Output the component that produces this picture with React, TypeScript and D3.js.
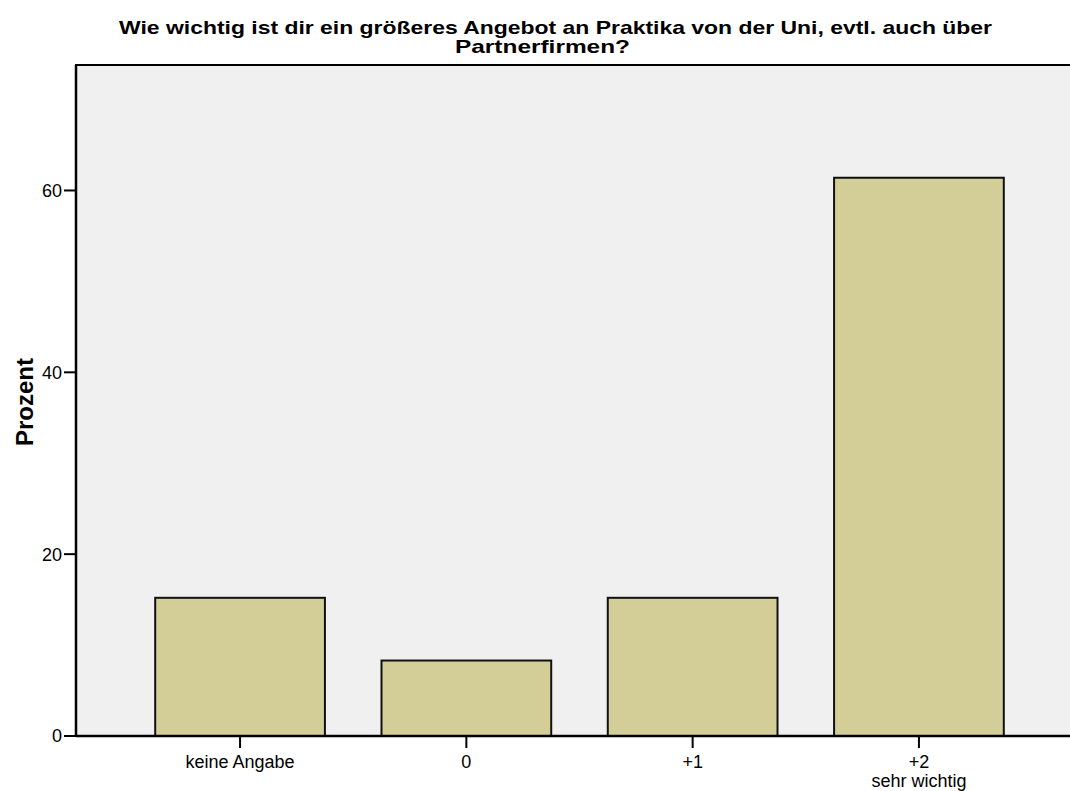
import { useEffect, useRef } from 'react';
import * as d3 from 'd3';

const categories = ['keine Angabe', '0', '+1', '+2'];
const subLabels = ['', '', '', 'sehr wichtig'];
const percentValues = [15.2, 8.3, 15.2, 61.4];
const yTicks = [0, 20, 40, 60];
const titleLines = [
  'Wie wichtig ist dir ein größeres Angebot an Praktika von der Uni, evtl. auch über',
  'Partnerfirmen?',
];

export default function App() {
  const ref = useRef<SVGSVGElement | null>(null);

  useEffect(() => {
    document.body.style.margin = '0';
    const svg = d3.select(ref.current!);
    svg.selectAll('*').remove();

    const width = 1070;
    const height = 791;
    const margin = { top: 65, left: 76, bottom: 736, right: 1083 };
    const font = "'Liberation Sans', Arial, sans-serif";

    const x = d3
      .scaleBand()
      .domain(categories)
      .range([margin.left, margin.right])
      .paddingInner(0.25)
      .paddingOuter(0.35);

    const y = d3.scaleLinear().domain([0, 73.8]).range([margin.bottom, margin.top]);

    svg.append('rect').attr('width', width).attr('height', height).attr('fill', '#ffffff');

    // plot background
    svg
      .append('rect')
      .attr('x', margin.left)
      .attr('y', margin.top)
      .attr('width', margin.right - margin.left)
      .attr('height', margin.bottom - margin.top)
      .attr('fill', '#f0f0f0')
      .attr('stroke', '#000')
      .attr('stroke-width', 2);

    // bars
    svg
      .selectAll('.bar')
      .data(categories)
      .enter()
      .append('rect')
      .attr('x', (d) => x(d)!)
      .attr('width', x.bandwidth())
      .attr('y', (_, i) => y(percentValues[i]))
      .attr('height', (_, i) => y(0) - y(percentValues[i]))
      .attr('fill', '#d3ce98')
      .attr('stroke', '#111')
      .attr('stroke-width', 2);

    // axes lines
    svg
      .append('line')
      .attr('x1', margin.left)
      .attr('x2', margin.right)
      .attr('y1', margin.bottom)
      .attr('y2', margin.bottom)
      .attr('stroke', '#000')
      .attr('stroke-width', 2.5);
    svg
      .append('line')
      .attr('x1', margin.left)
      .attr('x2', margin.left)
      .attr('y1', margin.top)
      .attr('y2', margin.bottom)
      .attr('stroke', '#000')
      .attr('stroke-width', 2.5);

    // y ticks
    yTicks.forEach((t) => {
      svg
        .append('line')
        .attr('x1', margin.left - 12)
        .attr('x2', margin.left)
        .attr('y1', y(t))
        .attr('y2', y(t))
        .attr('stroke', '#000')
        .attr('stroke-width', 2);
      svg
        .append('text')
        .attr('x', margin.left - 14)
        .attr('y', y(t))
        .attr('dy', '0.36em')
        .attr('text-anchor', 'end')
        .attr('font-family', font)
        .attr('font-size', '18px')
        .attr('fill', '#000')
        .text(String(t));
    });

    // x ticks
    categories.forEach((c, i) => {
      const cx = x(c)! + x.bandwidth() / 2;
      svg
        .append('line')
        .attr('x1', cx)
        .attr('x2', cx)
        .attr('y1', margin.bottom)
        .attr('y2', margin.bottom + 12)
        .attr('stroke', '#000')
        .attr('stroke-width', 2);
      svg
        .append('text')
        .attr('x', cx)
        .attr('y', 768)
        .attr('text-anchor', 'middle')
        .attr('font-family', font)
        .attr('font-size', '18px')
        .attr('fill', '#000')
        .text(c);
      if (subLabels[i]) {
        svg
          .append('text')
          .attr('x', cx)
          .attr('y', 787)
          .attr('text-anchor', 'middle')
          .attr('font-family', font)
          .attr('font-size', '18px')
          .attr('fill', '#000')
          .text(subLabels[i]);
      }
    });

    // y axis title
    svg
      .append('text')
      .attr('transform', 'translate(33,402) rotate(-90)')
      .attr('text-anchor', 'middle')
      .attr('font-family', font)
      .attr('font-size', '24px')
      .attr('font-weight', 'bold')
      .attr('fill', '#000')
      .text('Prozent');

    // chart title
    svg
      .append('text')
      .attr('x', 119)
      .attr('y', 34)
      .attr('textLength', 873)
      .attr('lengthAdjust', 'spacingAndGlyphs')
      .attr('font-family', font)
      .attr('font-size', '19px')
      .attr('font-weight', 'bold')
      .attr('fill', '#000')
      .text(titleLines[0]);
    svg
      .append('text')
      .attr('x', 455)
      .attr('y', 53)
      .attr('textLength', 175)
      .attr('lengthAdjust', 'spacingAndGlyphs')
      .attr('font-family', font)
      .attr('font-size', '19px')
      .attr('font-weight', 'bold')
      .attr('fill', '#000')
      .text(titleLines[1]);
  }, []);

  return (
    <div style={{ position: 'absolute', left: 0, top: 0 }}>
      <svg ref={ref} width={1070} height={791} style={{ display: 'block' }} />
    </div>
  );
}
